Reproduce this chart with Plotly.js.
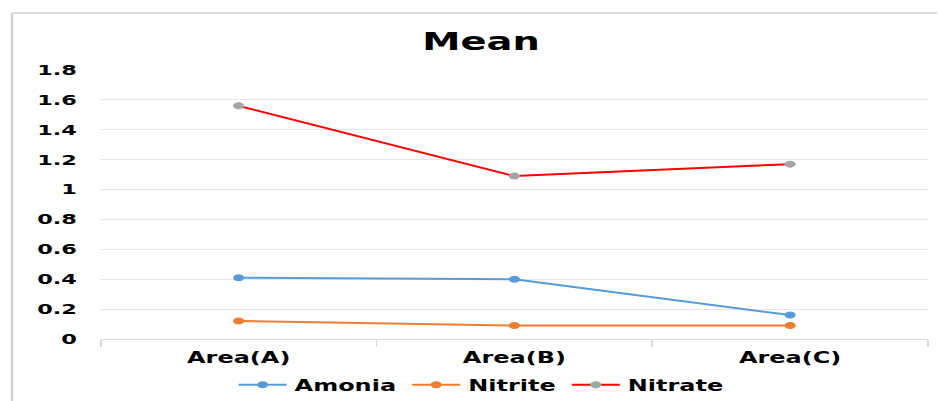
<!DOCTYPE html>
<html>
<head>
<meta charset="utf-8">
<script src="https://cdn.plot.ly/plotly-3.0.1.min.js"></script>
<style>
html,body{margin:0;padding:0;background:#fff;overflow:hidden;}
#wrap{width:938px;height:401px;overflow:hidden;position:relative;}
#chart{width:586px;height:401px;transform:scaleX(1.6);transform-origin:0 0;position:absolute;left:0;top:0;}
</style>
</head>
<body>
<div id="wrap"><div id="chart"></div></div>
<script>
const categories = ["Area(A)", "Area(B)", "Area(C)"];
const amonia = [0.41, 0.40, 0.16];
const nitrite = [0.12, 0.09, 0.09];
const nitrate = [1.56, 1.09, 1.17];
const yTicks = [0, 0.2, 0.4, 0.6, 0.8, 1, 1.2, 1.4, 1.6, 1.8];
const yTickText = ["0", "0.2", "0.4", "0.6", "0.8", "1", "1.2", "1.4", "1.6", "1.8"];

const fontFam = "DejaVu Sans, Verdana, sans-serif";

const traces = [
  {x: categories, y: amonia, name: "<b>Amonia</b>", type: "scatter", mode: "lines+markers",
   line: {color: "#5B9BD5", width: 2}, marker: {color: "#5B9BD5", size: 7}},
  {x: categories, y: nitrite, name: "<b>Nitrite</b>", type: "scatter", mode: "lines+markers",
   line: {color: "#ED7D31", width: 2}, marker: {color: "#ED7D31", size: 7}},
  {x: categories, y: nitrate, name: "<b>Nitrate</b>", type: "scatter", mode: "lines+markers",
   line: {color: "#FF0000", width: 2}, marker: {color: "#A5A5A5", size: 7}}
];

const layout = {
  width: 586, height: 401,
  margin: {l: 62.5, r: 6, t: 70, b: 62},
  paper_bgcolor: "#ffffff", plot_bgcolor: "#ffffff",
  title: {text: "<b>Mean</b>", x: 0.513, xanchor: "center", y: 0.895, yanchor: "middle",
          font: {family: fontFam, size: 24, color: "#000"}},
  font: {family: fontFam, color: "#000"},
  showlegend: true,
  legend: {orientation: "h", x: 0.513, xanchor: "center", xref: "container",
           y: 0.04, yanchor: "middle", yref: "container",
           font: {family: fontFam, size: 15, color: "#000"}, itemwidth: 30, tracegroupgap: 0},
  xaxis: {type: "category", tickson: "boundaries", ticks: "outside", ticklen: 7,
          tickcolor: "#d9d9d9", showline: true, linecolor: "#d9d9d9", linewidth: 1,
          showgrid: false, zeroline: false, automargin: false, ticklabelstandoff: 5,
          tickfont: {family: fontFam, size: 15, color: "#000"},
          tickprefix: "<b>", ticksuffix: "</b>", range: [-0.5, 2.5]},
  yaxis: {range: [0, 1.8], tickvals: yTicks, ticktext: yTickText.map(t => "<b>" + t + "</b>"),
          showgrid: true, gridcolor: "#e6e6e6", gridwidth: 1, zeroline: false, automargin: false,
          showline: false, ticks: "", ticklabelstandoff: 14,
          tickfont: {family: fontFam, size: 14, color: "#000"}},
  shapes: [
    {type: "line", xref: "paper", yref: "paper", x0: -0.1074, x1: 1.02, y0: 1 + 57/269, y1: 1 + 57/269,
     line: {color: "#d0d0d0", width: 1.5}},
    {type: "line", xref: "paper", yref: "paper", x0: -0.1074, x1: -0.1074, y0: 1 + 57/269, y1: -0.3,
     line: {color: "#d0d0d0", width: 1.5}}
  ]
};

Plotly.newPlot("chart", traces, layout, {displayModeBar: false, staticPlot: true});
</script>
</body>
</html>
